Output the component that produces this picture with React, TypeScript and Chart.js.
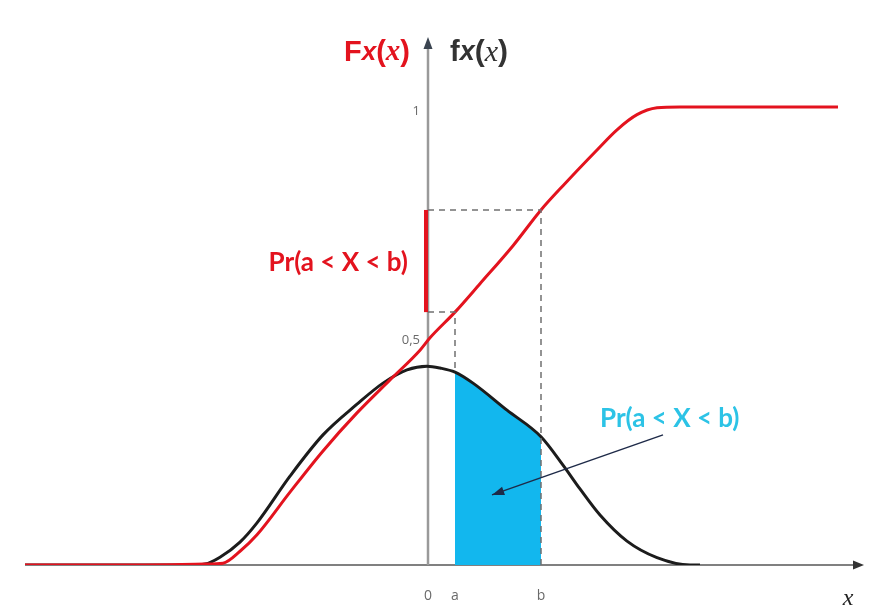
import React, { useEffect, useRef } from "react";
import { Chart, registerables } from "chart.js";

Chart.register(...registerables);

// Cumulative distribution F(x)
const cdfX = [-4.03, -3.08, -2.23, -2.05, -1.88, -1.71, -1.38, -1.05, -0.71, -0.38, -0.08, 0.02, 0.27, 0.52, 0.85, 1.13, 1.35, 1.69, 1.89, 2.09, 2.29, 2.52, 3.32, 4.1];
const cdfY = [0, 0, 0.002, 0.004, 0.03, 0.066, 0.159, 0.249, 0.332, 0.404, 0.469, 0.496, 0.552, 0.614, 0.697, 0.775, 0.828, 0.906, 0.95, 0.983, 0.998, 1.0, 1.0, 1.0];

// Density f(x)
const pdfX = [-4.03, -2.38, -2.23, -2.08, -1.88, -1.71, -1.38, -1.05, -0.71, -0.45, -0.21, -0.01, 0.12, 0.27, 0.45, 0.79, 1.13, 1.35, 1.52, 1.72, 1.99, 2.29, 2.62, 2.72];
const pdfY = [0, 0, 0.002, 0.017, 0.05, 0.092, 0.194, 0.284, 0.351, 0.397, 0.426, 0.434, 0.43, 0.421, 0.397, 0.338, 0.28, 0.218, 0.166, 0.109, 0.052, 0.016, 0, 0];

// Interval bounds
const A = 0.27;
const B = 1.13;

// Axis labels
const xTickLabels = [
  { value: 0, text: "0" },
  { value: A, text: "a" },
  { value: B, text: "b" },
];
const yTickLabels = [
  { value: 1, text: "1" },
  { value: 0.5, text: "0,5" },
];
const probLabel = "Pr(a < X < b)";

const RED = "#e3131e";
const BLACK = "#1c1c1c";
const CYAN = "#12b7ee";
const CYAN_TEXT = "#2cc3e6";
const AXIS = "#808080";
const DASH = "#707070";
const LABEL_FONT = "Lato, 'Open Sans', sans-serif";

const cdfPoints = cdfX.map((x, i) => ({ x, y: cdfY[i] }));
const pdfPoints = pdfX.map((x, i) => ({ x, y: pdfY[i] }));
const shadePoints = pdfPoints.filter((p) => p.x >= A && p.x <= B);

const valueAt = (xs: number[], ys: number[], x: number) => ys[xs.indexOf(x)];

function drawRich(ctx: CanvasRenderingContext2D, parts: { t: string; f: string }[], x: number, y: number, color: string) {
  ctx.fillStyle = color;
  ctx.textBaseline = "middle";
  ctx.textAlign = "left";
  let cx = x;
  for (const p of parts) {
    ctx.font = p.f;
    ctx.fillText(p.t, cx, y);
    cx += ctx.measureText(p.t).width;
  }
}

const decor = {
  id: "decor",
  beforeDatasetsDraw(chart: any) {
    const { ctx, scales } = chart;
    const xs = scales.x;
    const ys = scales.y;
    const x0 = xs.getPixelForValue(0);
    const y0 = ys.getPixelForValue(0);
    ctx.save();
    ctx.strokeStyle = AXIS;
    ctx.lineWidth = 2;
    // horizontal axis
    ctx.beginPath();
    ctx.moveTo(xs.getPixelForValue(-4.03), y0);
    ctx.lineTo(xs.getPixelForValue(4.3), y0);
    ctx.stroke();
    ctx.fillStyle = "#333";
    const xEnd = xs.getPixelForValue(4.36);
    ctx.beginPath();
    ctx.moveTo(xEnd, y0);
    ctx.lineTo(xEnd - 11, y0 - 4.5);
    ctx.lineTo(xEnd - 11, y0 + 4.5);
    ctx.closePath();
    ctx.fill();
    // vertical axis
    ctx.strokeStyle = "#9a9a9a";
    ctx.lineWidth = 2.5;
    const yTop = ys.getPixelForValue(1.17) + 12;
    ctx.beginPath();
    ctx.moveTo(x0, y0);
    ctx.lineTo(x0, yTop + 6);
    ctx.stroke();
    ctx.fillStyle = "#3a4450";
    ctx.beginPath();
    ctx.moveTo(x0, yTop - 4);
    ctx.lineTo(x0 - 4.5, yTop + 8);
    ctx.lineTo(x0 + 4.5, yTop + 8);
    ctx.closePath();
    ctx.fill();
    ctx.restore();
  },
  afterDatasetsDraw(chart: any) {
    const { ctx, scales } = chart;
    const xs = scales.x;
    const ys = scales.y;
    const px = (v: number) => xs.getPixelForValue(v);
    const py = (v: number) => ys.getPixelForValue(v);
    const x0 = px(0);
    const Fa = valueAt(cdfX, cdfY, A);
    const Fb = valueAt(cdfX, cdfY, B);
    const fa = valueAt(pdfX, pdfY, A);

    ctx.save();
    // dashed guides
    ctx.strokeStyle = DASH;
    ctx.lineWidth = 1.5;
    ctx.setLineDash([6, 5]);
    ctx.beginPath();
    ctx.moveTo(x0, py(Fb));
    ctx.lineTo(px(B), py(Fb));
    ctx.lineTo(px(B), py(0));
    ctx.moveTo(x0, py(Fa));
    ctx.lineTo(px(A), py(Fa));
    ctx.lineTo(px(A), py(fa));
    ctx.stroke();
    ctx.setLineDash([]);

    // probability segment on the vertical axis
    ctx.strokeStyle = RED;
    ctx.lineWidth = 4;
    ctx.beginPath();
    ctx.moveTo(x0 - 2, py(Fb));
    ctx.lineTo(x0 - 2, py(Fa));
    ctx.stroke();

    // pointer arrow to the shaded area
    const sx = px(2.35), sy = py(0.284);
    const ex = px(0.64), ey = py(0.153);
    ctx.strokeStyle = "#1e2a48";
    ctx.fillStyle = "#1e2a48";
    ctx.lineWidth = 1.5;
    ctx.beginPath();
    ctx.moveTo(sx, sy);
    ctx.lineTo(ex, ey);
    ctx.stroke();
    const ang = Math.atan2(ey - sy, ex - sx);
    ctx.beginPath();
    ctx.moveTo(ex, ey);
    ctx.lineTo(ex - 13 * Math.cos(ang - 0.35), ey - 13 * Math.sin(ang - 0.35));
    ctx.lineTo(ex - 13 * Math.cos(ang + 0.35), ey - 13 * Math.sin(ang + 0.35));
    ctx.closePath();
    ctx.fill();

    // tick labels
    ctx.fillStyle = "#6a6a6a";
    ctx.textBaseline = "middle";
    ctx.textAlign = "center";
    ctx.font = "14px 'Open Sans', sans-serif";
    for (const t of xTickLabels) ctx.fillText(t.text, px(t.value), py(0) + 31);
    ctx.textAlign = "right";
    ctx.font = "13px 'Open Sans', sans-serif";
    for (const t of yTickLabels) ctx.fillText(t.text, x0 - 8, py(t.value) + 4);

    // axis name
    ctx.fillStyle = "#222";
    ctx.textAlign = "center";
    ctx.font = "italic 24px 'Liberation Serif', serif";
    ctx.fillText("x", px(4.2), py(0) + 34);

    // probability labels
    ctx.font = "bold 26px " + LABEL_FONT;
    ctx.textAlign = "right";
    ctx.fillStyle = RED;
    ctx.fillText(probLabel, x0 - 20, py(0.66));
    ctx.textAlign = "left";
    ctx.fillStyle = CYAN_TEXT;
    ctx.fillText(probLabel, px(1.72), py(0.32));

    // function titles
    const ty = py(1.17) + 24;
    drawRich(ctx, [
      { t: "F", f: "bold 29px 'Liberation Sans', sans-serif" },
      { t: "x", f: "bold italic 26px 'Liberation Sans', sans-serif" },
      { t: "(", f: "bold 29px 'Liberation Sans', sans-serif" },
      { t: "x", f: "bold italic 29px 'Liberation Serif', serif" },
      { t: ")", f: "bold 29px 'Liberation Sans', sans-serif" },
    ], x0 - 84, ty, RED);
    drawRich(ctx, [
      { t: "f", f: "bold 29px 'Liberation Sans', sans-serif" },
      { t: "x", f: "bold italic 27px 'Liberation Sans', sans-serif" },
      { t: "(", f: "bold 30px 'Liberation Sans', sans-serif" },
      { t: "x", f: "italic 30px 'Liberation Serif', serif" },
      { t: ")", f: "bold 30px 'Liberation Sans', sans-serif" },
    ], x0 + 22, ty, "#333");
    ctx.restore();
  },
};

export default function App() {
  const ref = useRef<HTMLCanvasElement | null>(null);

  useEffect(() => {
    if (!ref.current) return;
    const chart = new Chart(ref.current, {
      type: "line",
      data: {
        datasets: [
          {
            label: "F(x)",
            data: cdfPoints,
            borderColor: RED,
            borderWidth: 3,
            pointRadius: 0,
            cubicInterpolationMode: "monotone",
            fill: false,
            order: 0,
          },
          {
            label: "f(x)",
            data: pdfPoints,
            borderColor: BLACK,
            borderWidth: 3,
            pointRadius: 0,
            cubicInterpolationMode: "monotone",
            fill: false,
            order: 1,
          },
          {
            label: "Pr(a < X < b)",
            data: shadePoints,
            borderWidth: 0,
            borderColor: CYAN,
            backgroundColor: CYAN,
            pointRadius: 0,
            cubicInterpolationMode: "monotone",
            fill: "origin",
            order: 2,
          },
        ],
      },
      options: {
        responsive: false,
        maintainAspectRatio: false,
        animation: false,
        layout: { padding: { left: 20, right: 3, top: 29, bottom: 46 } },
        scales: {
          x: { type: "linear", min: -4.08, max: 4.38, display: false },
          y: { type: "linear", min: 0, max: 1.17, display: false },
        },
        plugins: {
          legend: { display: false },
          tooltip: { enabled: false },
        },
      },
      plugins: [decor],
    } as any);
    return () => chart.destroy();
  }, []);

  return (
    <div style={{ position: "fixed", left: 0, top: 0, width: 869, height: 611, background: "#fff" }}>
      <canvas ref={ref} width={869} height={611} style={{ display: "block" }} />
    </div>
  );
}
